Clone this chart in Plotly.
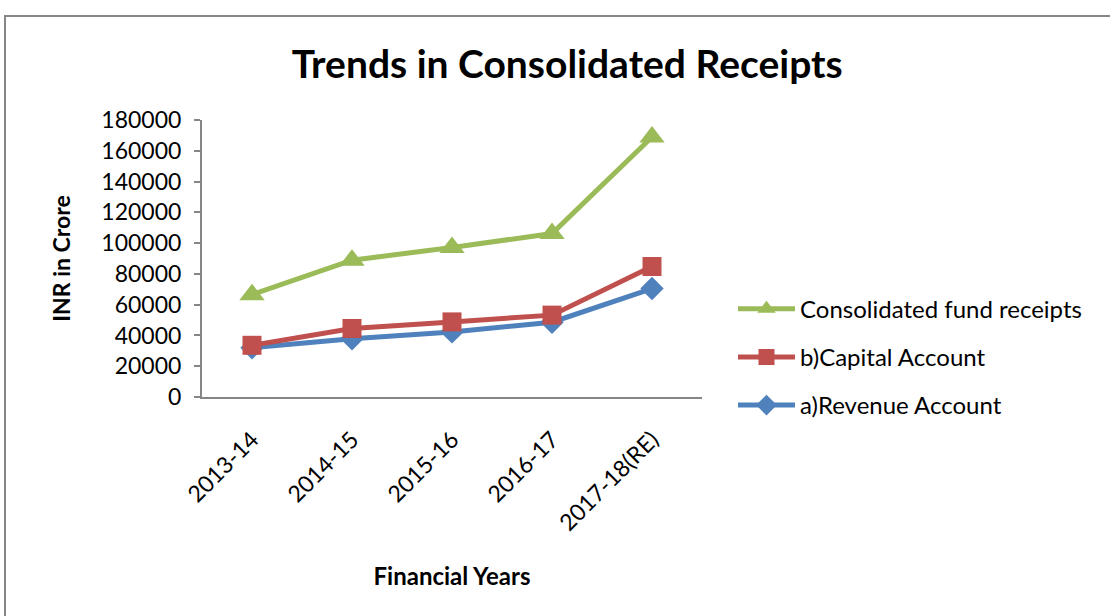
import plotly.graph_objects as go

years = ["2013-14", "2014-15", "2015-16", "2016-17", "2017-18(RE)"]
revenue_account = [32000, 37800, 42300, 48600, 70500]
capital_account = [33600, 44500, 48800, 53200, 84800]
consolidated_fund = [66500, 88900, 97200, 106200, 169000]
y_ticks = [0, 20000, 40000, 60000, 80000, 100000, 120000, 140000, 160000, 180000]

FONT = "Lato"
GREEN = "#9BBB59"
RED = "#C0504D"
BLUE = "#4F81BD"
AXIS = "#868686"

fig = go.Figure()

# (name, values, colour, marker symbol, marker size, legend rank)
series = [
    ("a)Revenue Account", revenue_account, BLUE, "diamond", 18, 3),
    ("b)Capital Account", capital_account, RED, "square", 19, 2),
    ("Consolidated fund receipts", consolidated_fund, GREEN, "triangle-up", 22, 1),
]
for name, vals, color, symbol, size, rank in series:
    fig.add_trace(go.Scatter(
        x=years, y=vals, name=name, mode="lines+markers",
        line=dict(color=color, width=5),
        marker=dict(symbol=symbol, size=size, color=color),
        legendgroup=name, legendrank=rank,
    ))

fig.update_layout(
    width=1110, height=616,
    margin=dict(l=202, r=408, t=120, b=219),
    paper_bgcolor="white", plot_bgcolor="white",
    font=dict(family=FONT, color="black", size=23),
    title=dict(text="<b>Trends in Consolidated Receipts</b>",
               font=dict(family=FONT, size=39, color="black"),
               x=0.511, xanchor="center", y=0.896, yanchor="middle"),
    showlegend=True,
    legend=dict(x=1.062, y=0.144, xanchor="left", yanchor="middle",
                traceorder="grouped", tracegroupgap=14, itemwidth=57,
                font=dict(family=FONT, size=24),
                bgcolor="rgba(0,0,0,0)"),
    xaxis=dict(
        type="category", range=[-0.5, 4.5],
        showline=True, linecolor=AXIS, linewidth=2,
        ticks="", tickangle=-45, showgrid=False, zeroline=False,
        ticklabelstandoff=18,
        tickfont=dict(family=FONT, size=23),
        title=dict(text="<b>Financial Years</b>", standoff=34,
                   font=dict(family=FONT, size=24)),
    ),
    yaxis=dict(
        range=[0, 180000], tickvals=y_ticks,
        ticktext=[str(v) for v in y_ticks],
        showline=True, linecolor=AXIS, linewidth=2,
        ticks="outside", ticklen=6, tickcolor=AXIS, tickwidth=2,
        ticklabelstandoff=8,
        showgrid=False, zeroline=False,
        tickfont=dict(family=FONT, size=23),
        title=dict(text="<b>INR in Crore</b>", standoff=24,
                   font=dict(family=FONT, size=23)),
    ),
    shapes=[dict(type="rect", xref="paper", yref="paper",
                 x0=(5 - 202) / 500, x1=(1200 - 202) / 500,
                 y0=(397 - 700) / 277, y1=(397 - 16) / 277,
                 line=dict(color=AXIS, width=2), layer="below")],
)

fig.write_html("out.html")
